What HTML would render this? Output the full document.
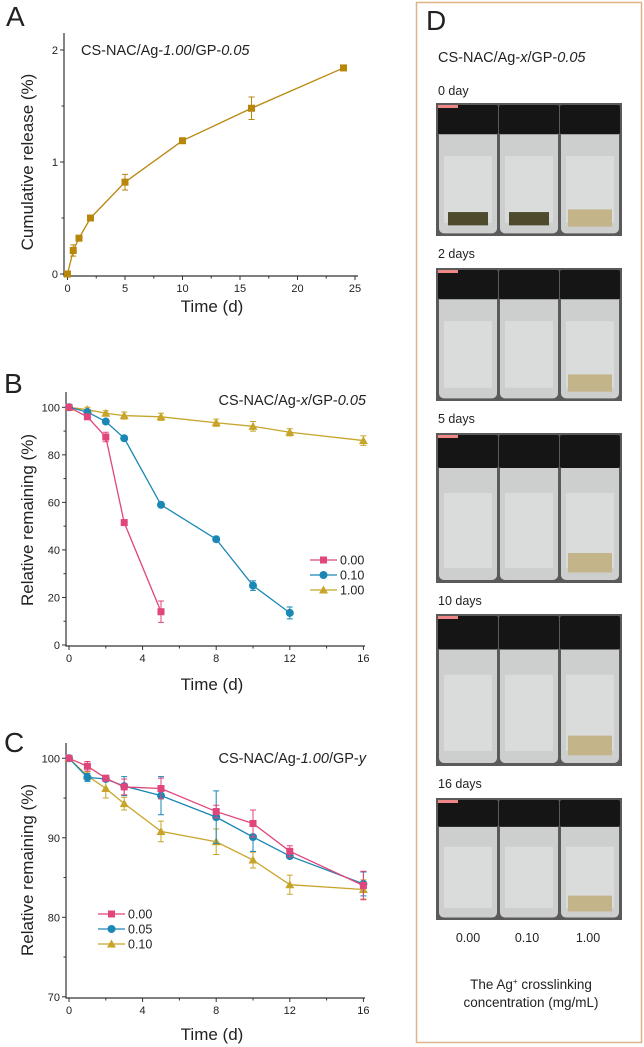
<!DOCTYPE html>
<html><head><meta charset="utf-8"><style>
html,body{margin:0;padding:0;background:#fff;}
svg{display:block;font-family:"Liberation Sans",sans-serif;}
</style></head><body>
<svg id="fig" width="644" height="1047" viewBox="0 0 644 1047" xmlns="http://www.w3.org/2000/svg">
<rect x="416.5" y="2.5" width="225" height="1040" fill="none" stroke="#dfb388" stroke-width="1.5"/>
<g id="photos"></g>
</svg>
<script>
// ---------- Panel A data ----------
const aTimes = [0, 0.5, 1, 2, 5, 10, 16, 24];
const aValues = [0, 0.21, 0.32, 0.5, 0.82, 1.19, 1.48, 1.84];
const aErrors = [0, 0.05, 0.02, 0.02, 0.07, 0.02, 0.1, 0.01];
const aXTicks = [0, 5, 10, 15, 20, 25];
const aYTicks = [0, 1, 2];
// ---------- Panel B data ----------
const bTimes0 = [0, 1, 2, 3, 5];
const bVals0 = [100, 96, 87.5, 51.5, 14];
const bErr0 = [0.5, 1, 2, 1, 4.5];
const bTimes1 = [0, 1, 2, 3, 5, 8, 10, 12];
const bVals1 = [100, 98, 94, 87, 59, 44.5, 25, 13.5];
const bErr1 = [0.5, 1, 1, 1, 1, 1, 2, 2.5];
const bTimes2 = [0, 1, 2, 3, 5, 8, 10, 12, 16];
const bVals2 = [100, 99, 97.5, 96.5, 96, 93.5, 92, 89.5, 86];
const bErr2 = [0.5, 1, 1, 1.5, 1.5, 1.5, 2, 1.5, 2];
const bLabels = ["0.00", "0.10", "1.00"];
const bXTicks = [0, 4, 8, 12, 16];
const bYTicks = [0, 20, 40, 60, 80, 100];
// ---------- Panel C data ----------
const cTimes = [0, 1, 2, 3, 5, 8, 10, 12, 16];
const cVals0 = [100, 99, 97.5, 96.4, 96.2, 93.3, 91.8, 88.3, 84];
const cErr0 = [0.2, 0.6, 0.3, 1, 1.3, 0.8, 1.7, 0.7, 1.8];
const cVals1 = [100, 97.6, 97.4, 96.5, 95.3, 92.6, 90.1, 87.7, 84.2];
const cErr1 = [0.2, 0.5, 0.3, 1.2, 2.4, 3.3, 1.8, 0.3, 1.5];
const cVals2 = [100, 97.8, 96.2, 94.3, 90.8, 89.5, 87.2, 84.1, 83.5];
const cErr2 = [0.2, 0.5, 1.2, 0.8, 1.3, 1.6, 1, 1.2, 1.2];
const cLabels = ["0.00", "0.05", "0.10"];
const cXTicks = [0, 4, 8, 12, 16];
const cYTicks = [70, 80, 90, 100];
// ---------- Panel D labels ----------
const dDays = ["0 day", "2 days", "5 days", "10 days", "16 days"];
const dConc = ["0.00", "0.10", "1.00"];

const NS = "http://www.w3.org/2000/svg";
const svg = document.getElementById("fig");
function el(tag, attrs, parent) {
  const e = document.createElementNS(NS, tag);
  for (const k in attrs) e.setAttribute(k, attrs[k]);
  (parent || svg).appendChild(e);
  return e;
}
function txt(s, x, y, size, parent, anchor) {
  const t = el("text", {x: x, y: y, "font-size": size, fill: "#222", "text-anchor": anchor || "middle"}, parent);
  t.textContent = s;
  return t;
}
const PINK = "#e0457b", BLUE = "#1a87b5", GOLD = "#c8a52a", BROWN = "#b8860b";

function axes(g, cfg) {
  const {x0, x1, y0, y1, xs, ys, xTicks, yTicks, xMinor, yMinor} = cfg;
  el("path", {d: `M${x0} ${y1}V${y0}H${x1}`, stroke: "#333", "stroke-width": 1.2, fill: "none"}, g);
  xTicks.forEach(v => {
    const tk = el("line", {x1: xs(v), x2: xs(v), y1: y0, y2: y0 + 4, stroke: "#333"}, g);
    
    
    const t = txt(String(v), xs(v), y0 + 16, 11, g);
    
    
  });
  xMinor.forEach(v => el("line", {x1: xs(v), x2: xs(v), y1: y0, y2: y0 + 2.5, stroke: "#333"}, g));
  yTicks.forEach(v => {
    el("line", {x1: x0 - 4, x2: x0, y1: ys(v), y2: ys(v), stroke: "#333"}, g);
    const t = txt(String(v), x0 - 6, ys(v) + 4, 11, g, "end");
    
    
  });
  yMinor.forEach(v => el("line", {x1: x0 - 2.5, x2: x0, y1: ys(v), y2: ys(v), stroke: "#333"}, g));
}
function marker(g, type, x, y, color) {
  let m;
  if (type === "sq") m = el("rect", {x: x - 3.5, y: y - 3.5, width: 7, height: 7, fill: color}, g);
  else if (type === "ci") m = el("circle", {cx: x, cy: y, r: 4, fill: color}, g);
  else m = el("path", {d: `M${x} ${y - 4.5}L${x + 4.5} ${y + 3.5}L${x - 4.5} ${y + 3.5}Z`, fill: color}, g);
  
  
}
function series(g, xsArr, ysArr, errs, xs, ys, color, type, name) {
  const p = el("polyline", {points: xsArr.map((t, i) => xs(t) + "," + ys(ysArr[i])).join(" "), fill: "none", stroke: color, "stroke-width": 1.3}, g);
  
  
  xsArr.forEach((t, i) => {
    const x = xs(t), yh = ys(ysArr[i] + errs[i]), yl = ys(ysArr[i] - errs[i]);
    el("path", {d: `M${x} ${yh}V${yl}M${x - 3} ${yh}H${x + 3}M${x - 3} ${yl}H${x + 3}`, stroke: color, "stroke-width": 1, fill: "none"}, g);
    marker(g, type, x, ys(ysArr[i]), color);
  });
}
function legend(g, x, y, labels, colors, types) {
  labels.forEach((l, i) => {
    const yy = y + i * 15;
    const lg = el("g", {}, g);
    
    
    el("line", {x1: x, x2: x + 27, y1: yy, y2: yy, stroke: colors[i], "stroke-width": 1.3}, lg);
    marker(lg, types[i], x + 13.5, yy, colors[i]);
    txt(l, x + 30, yy + 4.5, 12.5, lg, "start");
  });
}
function ytitle(g, s, x, y) {
  const t = txt(s, x, y, 17, g);
  t.setAttribute("transform", `rotate(-90 ${x} ${y})`);
  
  
}
function ctitle(g, parts, x, y, anchor) {
  const t = el("text", {x: x, y: y, "font-size": 14.5, fill: "#222", "text-anchor": anchor || "start"}, g);
  
  
  parts.forEach(p => {
    const s = el("tspan", p[1] ? {"font-style": "italic"} : {}, t);
    s.textContent = p[0];
  });
}
function panelLabel(s, x, y) {
  const t = txt(s, x, y, 28, svg, "start");
  
  
}

// Panel A
{
  const g = el("g", {});  
  const xs = v => 67.5 + v * 11.5, ys = v => 274 - v * 112;
  axes(g, {x0: 64, x1: 358, y0: 276, y1: 33, xs, ys, xTicks: aXTicks, yTicks: aYTicks,
    xMinor: [2.5, 7.5, 12.5, 17.5, 22.5], yMinor: [0.5, 1.5]});
  series(g, aTimes, aValues, aErrors, xs, ys, BROWN, "sq", "release-line");
  ytitle(g, "Cumulative release (%)", 33, 162);
  const xt = txt("Time (d)", 212, 312, 17, g);  
  ctitle(g, [["CS-NAC/Ag-"], ["1.00", 1], ["/GP-"], ["0.05", 1]], 81, 55);
  panelLabel("A", 6, 26);
}
// Panel B
{
  const g = el("g", {});  
  const xs = v => 69 + v * 18.4, ys = v => 645 - v * 2.377;
  axes(g, {x0: 66, x1: 365, y0: 646, y1: 392, xs, ys, xTicks: bXTicks, yTicks: bYTicks,
    xMinor: [2, 6, 10, 14], yMinor: [10, 30, 50, 70, 90]});
  series(g, bTimes2, bVals2, bErr2, xs, ys, GOLD, "tr", "series-1.00");
  series(g, bTimes1, bVals1, bErr1, xs, ys, BLUE, "ci", "series-0.10");
  series(g, bTimes0, bVals0, bErr0, xs, ys, PINK, "sq", "series-0.00");
  legend(g, 310, 560, bLabels, [PINK, BLUE, GOLD], ["sq", "ci", "tr"]);
  ytitle(g, "Relative remaining (%)", 33, 520);
  const xt = txt("Time (d)", 212, 690, 17, g);  
  ctitle(g, [["CS-NAC/Ag-"], ["x", 1], ["/GP-"], ["0.05", 1]], 366, 405, "end");
  panelLabel("B", 4, 393);
}
// Panel C
{
  const g = el("g", {});  
  const xs = v => 69 + v * 18.4, ys = v => 758.3 + (100 - v) * 7.95;
  axes(g, {x0: 66, x1: 365, y0: 998, y1: 743, xs, ys, xTicks: cXTicks, yTicks: cYTicks,
    xMinor: [2, 6, 10, 14], yMinor: [75, 85, 95]});
  series(g, cTimes, cVals2, cErr2, xs, ys, GOLD, "tr", "series-0.10");
  series(g, cTimes, cVals1, cErr1, xs, ys, BLUE, "ci", "series-0.05");
  series(g, cTimes, cVals0, cErr0, xs, ys, PINK, "sq", "series-0.00");
  legend(g, 98, 914, cLabels, [PINK, BLUE, GOLD], ["sq", "ci", "tr"]);
  ytitle(g, "Relative remaining (%)", 33, 870);
  const xt = txt("Time (d)", 212, 1040, 17, g);  
  ctitle(g, [["CS-NAC/Ag-"], ["1.00", 1], ["/GP-"], ["y", 1]], 366, 763, "end");
  panelLabel("C", 4, 752);
}
// Panel D
{
  const g = document.getElementById("photos");
   
  panelLabel("D", 426, 30);
  const tt = el("text", {x: 438, y: 62, "font-size": 14.5, fill: "#222"}, g);
   
  [["CS-NAC/Ag-"], ["x", 1], ["/GP-"], ["0.05", 1]].forEach(p => {
    const s = el("tspan", p[1] ? {"font-style": "italic"} : {}, tt); s.textContent = p[0];
  });
  const labelY = [95, 258, 423, 605, 788];
  const photoY = [103, 268, 433, 614, 798];
  const photoH = [133, 133, 150, 152, 122];
  dDays.forEach((d, i) => {
    const t = txt(d, 438, labelY[i], 12.5, g, "start");
    
    
    const ph = el("g", {}, g);
    
    
    const y = photoY[i], h = photoH[i];
    el("rect", {x: 436, y: y, width: 186, height: h, fill: "#5a5a5a"}, ph);
    for (let k = 0; k < 3; k++) {
      const vx = 438 + k * 61;
      el("rect", {x: vx + 1, y: y + h * 0.2, width: 58, height: h * 0.78, rx: 5, fill: "#cdcfcf"}, ph);
      el("rect", {x: vx + 6, y: y + h * 0.4, width: 48, height: h * 0.5, fill: "#dadcdc"}, ph);
      el("rect", {x: vx, y: y + 2, width: 60, height: h * 0.22, rx: 2, fill: "#151515"}, ph);
      if (k === 2) el("rect", {x: vx + 8, y: y + h * 0.8, width: 44, height: h * 0.13, fill: "#c4b48a"}, ph);
      if (i === 0 && k < 2) el("rect", {x: vx + 10, y: y + h * 0.82, width: 40, height: h * 0.1, fill: "#4d4a2e"}, ph);
    }
    el("rect", {x: 438, y: y + 2, width: 20, height: 3, fill: "#e88"}, ph);
  });
  const cx = [468, 527, 588];
  dConc.forEach((c, i) => {
    const t = txt(c, cx[i], 942, 12.5, g);
    
    
  });
  const c1 = el("text", {x: 531, y: 989, "font-size": 13.5, fill: "#222", "text-anchor": "middle"}, g);
   
  c1.innerHTML = 'The Ag<tspan font-size="8" dy="-5">+</tspan><tspan dy="5"> crosslinking</tspan>';
  const c2 = txt("concentration (mg/mL)", 531, 1007, 13.5, g);
   
}
</script>
</body></html>
